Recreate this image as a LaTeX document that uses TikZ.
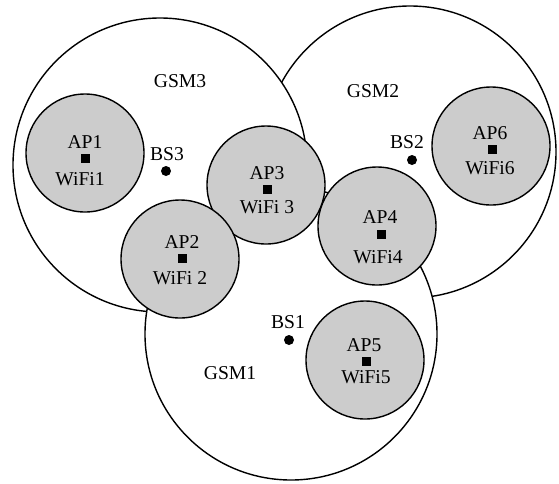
\documentclass[tikz,border=0pt]{standalone}
\usepackage{fontspec}
\setmainfont{Liberation Serif}
\definecolor{apgray}{RGB}{204,204,204}
\begin{document}
\begin{tikzpicture}[x=1pt,y=-1pt,
  gsm/.style={circle,draw=black,fill=white,line width=1.4pt,minimum size=#1,inner sep=0pt},
  ap/.style={circle,draw=black,fill=apgray,line width=1.4pt,minimum size=118pt,inner sep=0pt},
  apsq/.style={rectangle,fill=black,minimum size=9pt,inner sep=0pt},
  bsdot/.style={circle,fill=black,minimum size=10pt,inner sep=0pt},
  lbl/.style={inner sep=0pt,font=\fontsize{19.6}{22}\selectfont}]
\useasboundingbox (0,0) rectangle (559,483);
% GSM cells
\node[gsm=292pt] (gsm2) at (410,152) {};
\node[gsm=294pt] (gsm3) at (160,165) {};
\node[gsm=292pt] (gsm1) at (291,334) {};
% WiFi cells
\node[ap] (c1) at (85,153) {};
\node[ap] (c3) at (266,185) {};
\node[ap] (c2) at (180,259) {};
\node[ap] (c4) at (377,226) {};
\node[ap] (c5) at (365,360) {};
\node[ap] (c6) at (491,146) {};
% labels
\node[lbl] (g3) at (180,81) {GSM3};
\node[lbl] (g2) at (373,91) {GSM2};
\node[lbl] (g1) at (230,373) {GSM1};
% base stations
\node[lbl] (bs3) at (167,154) {BS3};
\node[bsdot] (d3) at (166,171) {};
\node[lbl] (bs2) at (407,142) {BS2};
\node[bsdot] (d2) at (412,160) {};
\node[lbl] (bs1) at (288,322) {BS1};
\node[bsdot] (d1) at (289,340) {};
% access points
\node[lbl] (a1) at (85,142) {AP1};
\node[apsq] (s1) at (85,158) {};
\node[lbl] (w1) at (80,179) {WiFi1};
\node[lbl] (a2) at (182,242) {AP2};
\node[apsq] (s2) at (182,258) {};
\node[lbl] (w2) at (180,278) {WiFi 2};
\node[lbl] (a3) at (267,173) {AP3};
\node[apsq] (s3) at (267,189) {};
\node[lbl] (w3) at (267,207) {WiFi 3};
\node[lbl] (a4) at (380,217) {AP4};
\node[apsq] (s4) at (381,234) {};
\node[lbl] (w4) at (378,257) {WiFi4};
\node[lbl] (a5) at (364,345) {AP5};
\node[apsq] (s5) at (366,361) {};
\node[lbl] (w5) at (366,377) {WiFi5};
\node[lbl] (a6) at (490,133) {AP6};
\node[apsq] (s6) at (492,149) {};
\node[lbl] (w6) at (490,168) {WiFi6};
\end{tikzpicture}
\end{document}
